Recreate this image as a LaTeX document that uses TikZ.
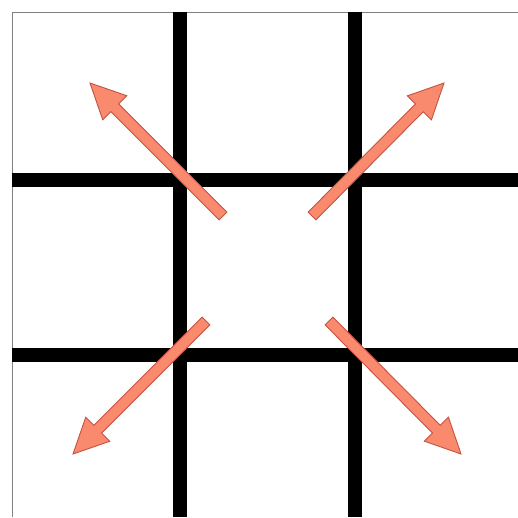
\documentclass[tikz,border=0pt]{standalone}
\usepackage{tikz}
\usetikzlibrary{calc}

\definecolor{arrowfill}{RGB}{250,138,110}
\definecolor{arrowline}{RGB}{196,82,64}

\tikzset{
	gridline/.style={black, line width=14pt},
	blockarrow/.style={fill=arrowfill, draw=arrowline, line width=0.9pt, line join=miter}
}

% block arrow from tail #1 to tip #2
\newcommand{\blockarrow}[2]{%
	\coordinate (h) at ($(#2)!35pt!(#1)$);
	\draw [blockarrow] ($(#1)!5.5pt!90:(#2)$) -- ($(h)!5.5pt!-90:(#1)$)
		-- ($(h)!17pt!-90:(#1)$) -- (#2) -- ($(h)!17pt!90:(#1)$)
		-- ($(h)!5.5pt!90:(#1)$) -- ($(#1)!5.5pt!-90:(#2)$) -- cycle;
}

\begin{document}
\begin{tikzpicture}[x=1pt, y=-1pt]
		\useasboundingbox (0,0) rectangle (518,517);
		\fill [white] (0,0) rectangle (518,517);
		% frame
		\draw [gray, line width=1pt] (12,517) -- (12,12) -- (518,12);
		% grid
		\draw [gridline] (180,12) -- (180,517);
		\draw [gridline] (355,12) -- (355,517);
		\draw [gridline] (12,180) -- (518,180);
		\draw [gridline] (12,355) -- (518,355);
		% arrows
		\coordinate (ulTail) at (223,216);
		\coordinate (ulTip) at (90,83);
		\coordinate (urTail) at (312,216);
		\coordinate (urTip) at (444,83);
		\coordinate (llTail) at (206,321);
		\coordinate (llTip) at (73,454);
		\coordinate (lrTail) at (329,321);
		\coordinate (lrTip) at (461,454);
		\blockarrow{ulTail}{ulTip}
		\blockarrow{urTail}{urTip}
		\blockarrow{llTail}{llTip}
		\blockarrow{lrTail}{lrTip}
	\end{tikzpicture}
\end{document}
